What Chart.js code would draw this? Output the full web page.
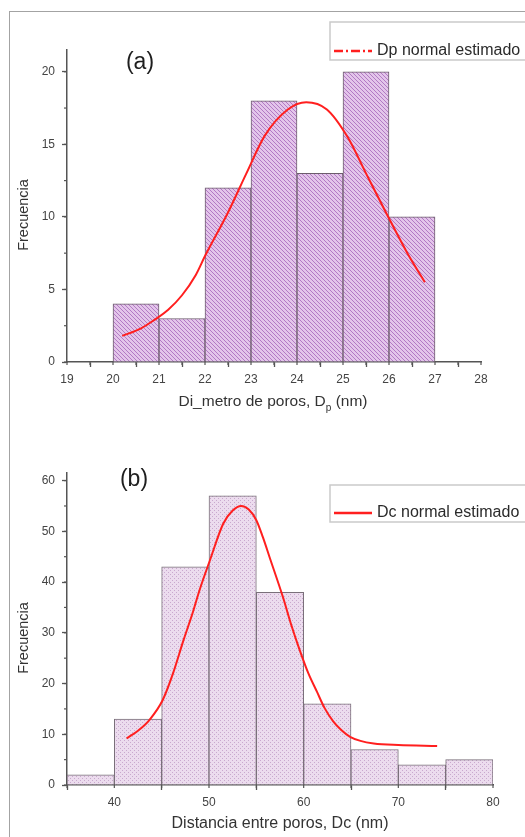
<!DOCTYPE html>
<html>
<head>
<meta charset="utf-8">
<script src="https://cdn.jsdelivr.net/npm/chart.js@4.4.1/dist/chart.umd.min.js"></script>
<style>
  body { margin: 0; background: #fff; width: 525px; height: 837px; overflow: hidden; position: relative; }
  #frame { position: absolute; left: 9px; top: 11px; width: 700px; height: 900px;
           border-left: 1.5px solid #a3a3a3; border-top: 1.5px solid #a3a3a3; }
  canvas { position: absolute; left: 0; }
  #ca { top: 0; }
  #cb { top: 420px; }
</style>
</head>
<body>
<div id="frame"></div>
<canvas id="ca" width="525" height="420"></canvas>
<canvas id="cb" width="525" height="417"></canvas>
<script>
// (a) diametro de poros
const edgesA = [20, 21, 22, 23, 24, 25, 26, 27];
const countsA = [4, 3, 12, 18, 13, 20, 10];
const fitXA = [20.2, 20.6, 20.9, 21.2, 21.5, 21.8, 22.0, 22.5, 22.9, 23.3, 23.8, 24.2, 24.65, 25.1, 25.5, 25.95, 26.4, 26.78];
const fitYA = [1.8, 2.3, 2.9, 3.6, 4.6, 6.0, 7.3, 10.3, 13.0, 15.6, 17.4, 17.9, 17.4, 15.5, 13.0, 10.2, 7.5, 5.5];

// (b) distancia entre poros
const edgesB = [35, 40, 45, 50, 55, 60, 65, 70, 75, 80];
const countsB = [2, 13, 43, 57, 38, 16, 7, 4, 5];
const fitXB = [41.3, 42.5, 43.7, 45.1, 46.2, 47.3, 48.2, 49.0, 50.1, 51.5, 52.5, 53.4, 54.2, 55.0, 55.7, 56.4, 57.8, 58.7, 59.6, 60.5, 61.4, 62.2, 63.1, 64.0, 64.9, 66.0, 67.4, 70.0, 74.1];
const fitYB = [9.2, 10.7, 12.8, 16.7, 22.0, 28.5, 33.5, 38.4, 44.3, 51.5, 54.1, 55.0, 54.3, 52.2, 48.8, 44.9, 37.1, 31.5, 26.5, 22.0, 18.4, 15.2, 12.6, 10.8, 9.5, 8.7, 8.2, 7.9, 7.7];

const FONT = '"Liberation Sans", Arial, sans-serif';
Chart.defaults.font.family = FONT;

// relleno rayado tipo Origin
function pattern(bg, fg, kind) {
  const c = document.createElement('canvas');
  c.width = c.height = 4;
  const g = c.getContext('2d');
  g.fillStyle = bg;
  g.fillRect(0, 0, 4, 4);
  g.fillStyle = fg;
  if (kind === 'diag') {
    for (let i = 0; i < 4; i++) g.fillRect(i, i, 1, 1);
  } else {
    g.fillRect(0, 0, 1, 1);
    g.fillRect(2, 2, 1, 1);
  }
  return g.createPattern(c, 'repeat');
}

// ticks menores, titulos, etiqueta y leyenda
const decor = {
  id: 'decor',
  afterDraw(chart, args, o) {
    const ctx = chart.ctx;
    const xs = chart.scales.x, ys = chart.scales.y;
    ctx.save();
    ctx.strokeStyle = '#555';
    ctx.lineWidth = 1.2;
    for (let v = xs.min; v <= xs.max + 1e-9; v += o.xMinor) {
      const px = xs.getPixelForValue(v);
      ctx.beginPath(); ctx.moveTo(px, xs.top); ctx.lineTo(px, xs.top + 3); ctx.stroke();
    }
    for (let v = ys.min; v <= ys.max + 1e-9; v += o.yMinor) {
      const py = ys.getPixelForValue(v);
      ctx.beginPath(); ctx.moveTo(ys.right, py); ctx.lineTo(ys.right - 3, py); ctx.stroke();
    }

    // (a) / (b)
    ctx.fillStyle = '#1e1e1e';
    ctx.font = '23px ' + FONT;
    ctx.textAlign = 'center';
    ctx.textBaseline = 'middle';
    ctx.fillText(o.tag, o.tagX, o.tagY);

    // eje y
    ctx.fillStyle = '#333';
    ctx.save();
    ctx.translate(o.yTitleX, o.yTitleY);
    ctx.rotate(-Math.PI / 2);
    ctx.font = '14.5px ' + FONT;
    ctx.fillText(o.yTitle, 0, 0);
    ctx.restore();

    // eje x (partes impares en subindice)
    const big = o.xTitleSize + 'px ' + FONT, small = (o.xTitleSize * 0.65) + 'px ' + FONT;
    let w = 0;
    o.xTitle.forEach((t, i) => { ctx.font = i % 2 ? small : big; w += ctx.measureText(t).width; });
    let x = o.xTitleX - w / 2;
    ctx.textAlign = 'left';
    o.xTitle.forEach((t, i) => {
      ctx.font = i % 2 ? small : big;
      ctx.fillText(t, x, o.xTitleY + (i % 2 ? 6 : 0));
      x += ctx.measureText(t).width;
    });

    // leyenda
    const ds = chart.data.datasets[0];
    ctx.strokeStyle = '#cacaca';
    ctx.lineWidth = 1.5;
    ctx.strokeRect(o.legX, o.legTop, 300, o.legBottom - o.legTop);
    ctx.strokeStyle = ds.borderColor;
    ctx.lineWidth = 2.5;
    ctx.setLineDash(o.legDash);
    ctx.beginPath(); ctx.moveTo(o.legX + 4, o.legLineY); ctx.lineTo(o.legX + 42, o.legLineY); ctx.stroke();
    ctx.setLineDash([]);
    ctx.fillStyle = '#2a2a2a';
    ctx.font = '16px ' + FONT;
    ctx.fillText(ds.label, o.legX + 47, o.legLineY);
    ctx.restore();
  }
};

function histChart(canvas, o) {
  const centers = o.counts.map((_, i) => (o.edges[i] + o.edges[i + 1]) / 2);
  return new Chart(canvas, {
    type: 'bar',
    data: {
      datasets: [
        {
          type: 'line',
          label: o.fitLabel,
          data: o.fitX.map((x, i) => ({ x: x, y: o.fitY[i] })),
          borderColor: '#ff1f1f',
          borderWidth: 2,
          pointRadius: 0,
          cubicInterpolationMode: 'monotone',
          order: 0
        },
        {
          type: 'bar',
          label: 'Frecuencia',
          data: centers.map((x, i) => ({ x: x, y: o.counts[i] })),
          backgroundColor: o.fill,
          borderColor: o.edge,
          borderWidth: 1,
          barPercentage: 1,
          categoryPercentage: 1,
          order: 1
        }
      ]
    },
    options: {
      responsive: false,
      animation: false,
      layout: { padding: { top: o.padTop, right: o.padRight, bottom: 0, left: 0 } },
      plugins: {
        legend: { display: false },
        tooltip: { enabled: false },
        decor: o.decor
      },
      scales: {
        x: {
          type: 'linear',
          min: o.xMin, max: o.xMax,
          offset: false,
          ticks: { stepSize: o.xStep, includeBounds: false, color: '#444', font: { size: 12 }, padding: 5, maxRotation: 0, autoSkip: false },
          grid: { drawOnChartArea: false, tickLength: 5, tickColor: '#555', tickWidth: 1.3 },
          border: { color: '#555', width: 1.5 },
          afterFit: s => { s.height = o.xAxisH; }
        },
        y: {
          min: 0, max: o.yMax,
          ticks: { stepSize: o.yStep, includeBounds: false, color: '#444', font: { size: 12 }, padding: 7 },
          grid: { drawOnChartArea: false, tickLength: 5, tickColor: '#555', tickWidth: 1.3 },
          border: { color: '#555', width: 1.5 },
          afterFit: s => { s.width = 67; }
        }
      }
    },
    plugins: [decor]
  });
}

histChart(document.getElementById('ca'), {
  edges: edgesA, counts: countsA, fitX: fitXA, fitY: fitYA,
  fitLabel: 'Dp normal estimado',
  fill: pattern('#e3c5ea', '#b27ac4', 'diag'), edge: '#6c5c6c',
  xMin: 19, xMax: 28, xStep: 1, yMax: 21.5, yStep: 5,
  padTop: 50, padRight: 44, xAxisH: 58,
  decor: {
    xMinor: 0.5, yMinor: 2.5,
    tag: '(a)', tagX: 140, tagY: 63,
    yTitle: 'Frecuencia', yTitleX: 24, yTitleY: 215,
    xTitle: ['Di_metro de poros, D', 'p', ' (nm)'], xTitleSize: 15.5, xTitleX: 273, xTitleY: 402,
    legX: 330, legTop: 22, legBottom: 60, legLineY: 51, legDash: [9, 3, 2, 3]
  }
});

histChart(document.getElementById('cb'), {
  edges: edgesB, counts: countsB, fitX: fitXB, fitY: fitYB,
  fitLabel: 'Dc normal estimado',
  fill: pattern('#ecdcee', '#c9a9ce', 'dots'), edge: '#7a707a',
  xMin: 35, xMax: 80, xStep: 10, yMax: 61.5, yStep: 10,
  padTop: 53, padRight: 32, xAxisH: 52,
  decor: {
    xMinor: 5, yMinor: 5,
    tag: '(b)', tagX: 134, tagY: 60,
    yTitle: 'Frecuencia', yTitleX: 24, yTitleY: 218,
    xTitle: ['Distancia entre poros, Dc (nm)'], xTitleSize: 16, xTitleX: 280, xTitleY: 404,
    legX: 330, legTop: 65, legBottom: 102, legLineY: 93, legDash: []
  }
});
</script>
</body>
</html>
